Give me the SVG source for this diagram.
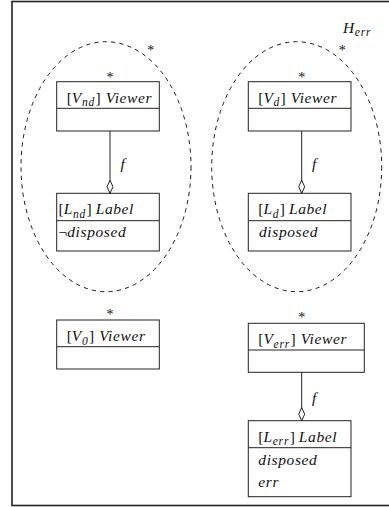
<svg xmlns="http://www.w3.org/2000/svg" width="389" height="507" viewBox="0 0 389 507">
<style>
.frame{fill:none;stroke:#222;stroke-width:1.6}
.box{fill:#fff;stroke:#222;stroke-width:1}
.div{stroke:#222;stroke-width:1}
.grp{fill:none;stroke:#000;stroke-width:0.9;stroke-dasharray:4.2 4.2}
.edge{stroke:#222;stroke-width:1;fill:none}
text{font-family:"Liberation Serif","Times New Roman",serif;font-size:15.5px;fill:#111}
.i{font-style:italic;letter-spacing:0.6px}
.sub{font-style:italic;font-size:11.5px;letter-spacing:0.8px}
.star{font-size:14px}
</style>
<defs>
<marker id="dia" viewBox="0 0 14 8" refX="13.5" refY="4" markerWidth="14" markerHeight="8" markerUnits="userSpaceOnUse" orient="auto">
<path d="M0.5,4 L7,1 L13.5,4 L7,7 Z" fill="#fff" stroke="#222" stroke-width="1"/>
</marker>
</defs>
<rect class="frame" x="12" y="1.5" width="390" height="504"/>
<g id="group-nd">
<ellipse class="grp" cx="106" cy="166.7" rx="85" ry="125"/>
<text class="star" x="150.7" y="55.2" text-anchor="middle">*</text>
</g>
<g id="group-d">
<ellipse class="grp" cx="296.7" cy="166.7" rx="85" ry="125"/>
<text class="star" x="342.3" y="55.2" text-anchor="middle">*</text>
</g>
<g id="label-herr">
<text x="343" y="33.3"><tspan class="i">H</tspan><tspan class="sub" dy="2.5">err</tspan></text>
</g>
<g id="Vnd">
<text class="star" x="110" y="82" text-anchor="middle">*</text>
<rect class="box" x="56.7" y="81.7" width="102.6" height="49.3"/>
<line class="div" x1="56.7" y1="108.3" x2="159.3" y2="108.3"/>
<text x="66.7" y="102.7">[<tspan class="i">V</tspan><tspan class="sub" dy="3.5">nd</tspan><tspan dy="-3.5" dx="0.5">]</tspan><tspan class="i" dx="5">Viewer</tspan></text>
</g>
<g id="Lnd">
<rect class="box" x="56.7" y="193.3" width="102.6" height="57.7"/>
<line class="div" x1="56.7" y1="220.7" x2="159.3" y2="220.7"/>
<text x="58.5" y="214">[<tspan class="i">L</tspan><tspan class="sub" dy="3.5">nd</tspan><tspan dy="-3.5" dx="0.5">]</tspan><tspan class="i" dx="4">Label</tspan></text>
<text x="58.5" y="236.5">¬<tspan class="i">disposed</tspan></text>
</g>
<g id="Vd">
<text class="star" x="301.7" y="82" text-anchor="middle">*</text>
<rect class="box" x="248.3" y="81.7" width="102.7" height="49.3"/>
<line class="div" x1="248.3" y1="108.3" x2="351" y2="108.3"/>
<text x="258.3" y="102.7">[<tspan class="i">V</tspan><tspan class="sub" dy="3.5">d</tspan><tspan dy="-3.5" dx="0.5">]</tspan><tspan class="i" dx="5">Viewer</tspan></text>
</g>
<g id="Ld">
<rect class="box" x="248.3" y="193.3" width="102.7" height="57.7"/>
<line class="div" x1="248.3" y1="220.7" x2="351" y2="220.7"/>
<text x="258.3" y="214">[<tspan class="i">L</tspan><tspan class="sub" dy="3.5">d</tspan><tspan dy="-3.5" dx="0.5">]</tspan><tspan class="i" dx="4">Label</tspan></text>
<text class="i" x="259" y="236.5">disposed</text>
</g>
<g id="V0">
<text class="star" x="110" y="318.6" text-anchor="middle">*</text>
<rect class="box" x="56.7" y="320" width="102.6" height="49"/>
<line class="div" x1="56.7" y1="346.7" x2="159.3" y2="346.7"/>
<text x="66.7" y="341">[<tspan class="i">V</tspan><tspan class="sub" dy="3.5">0</tspan><tspan dy="-3.5" dx="0.5">]</tspan><tspan class="i" dx="5">Viewer</tspan></text>
</g>
<g id="Verr">
<text class="star" x="301.7" y="322" text-anchor="middle">*</text>
<rect class="box" x="248.3" y="323.3" width="116" height="49"/>
<line class="div" x1="248.3" y1="350" x2="364.3" y2="350"/>
<text x="258.3" y="344.3">[<tspan class="i">V</tspan><tspan class="sub" dy="3.5">err</tspan><tspan dy="-3.5" dx="0.5">]</tspan><tspan class="i" dx="5">Viewer</tspan></text>
</g>
<g id="Lerr">
<rect class="box" x="248.3" y="420.7" width="102.7" height="76"/>
<line class="div" x1="248.3" y1="447.7" x2="351" y2="447.7"/>
<text x="258.3" y="441.7">[<tspan class="i">L</tspan><tspan class="sub" dy="3.5">err</tspan><tspan dy="-3.5" dx="0.5">]</tspan><tspan class="i" dx="4">Label</tspan></text>
<text class="i" x="258.3" y="465">disposed</text>
<text class="i" x="258.3" y="486.7">err</text>
</g>
<g id="connectors">
<line class="edge" x1="110" y1="131" x2="110" y2="193.3" marker-end="url(#dia)"/>
<text class="i" x="120.5" y="169">f</text>
<line class="edge" x1="301.7" y1="131" x2="301.7" y2="193.3" marker-end="url(#dia)"/>
<text class="i" x="312" y="169">f</text>
<line class="edge" x1="301.7" y1="372.3" x2="301.7" y2="420.7" marker-end="url(#dia)"/>
<text class="i" x="312" y="403">f</text>
</g>
</svg>
